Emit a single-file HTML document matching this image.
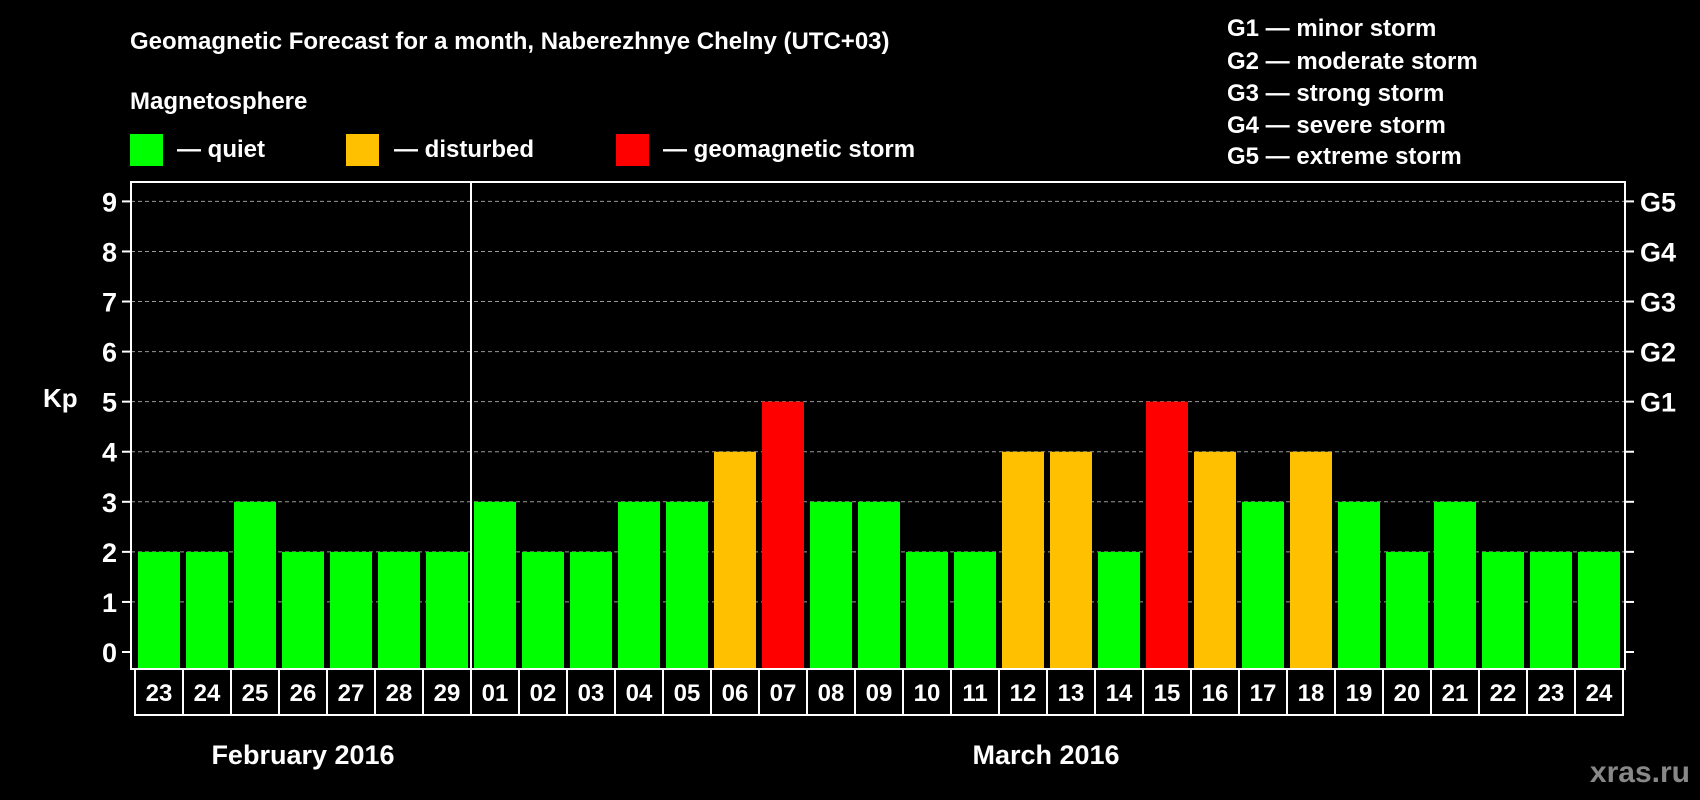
<!DOCTYPE html>
<html><head><meta charset="utf-8"><style>
body{margin:0;background:#000;width:1700px;height:800px;overflow:hidden}
svg{display:block;font-family:"Liberation Sans",sans-serif;font-weight:bold}
</style></head><body>
<svg id="c" width="1700" height="800">
<text x="130" y="49" fill="#fff" font-size="24">Geomagnetic Forecast for a month, Naberezhnye Chelny (UTC+03)</text>
<text x="130" y="109" fill="#fff" font-size="24">Magnetosphere</text>
<rect x="130" y="134" width="33" height="32" fill="#00ff00"/>
<text x="177" y="157" fill="#fff" font-size="24">— quiet</text>
<rect x="346" y="134" width="33" height="32" fill="#ffc000"/>
<text x="394" y="157" fill="#fff" font-size="24">— disturbed</text>
<rect x="616" y="134" width="33" height="32" fill="#ff0000"/>
<text x="663" y="157" fill="#fff" font-size="24">— geomagnetic storm</text>
<g fill="#fff" font-size="24">
<text x="1227" y="36">G1 — minor storm</text>
<text x="1227" y="69">G2 — moderate storm</text>
<text x="1227" y="101">G3 — strong storm</text>
<text x="1227" y="133">G4 — severe storm</text>
<text x="1227" y="164">G5 — extreme storm</text>
</g>
<text x="43" y="407" fill="#fff" font-size="26">Kp</text>
<text x="303" y="764" fill="#fff" font-size="27" text-anchor="middle">February 2016</text>
<text x="1046" y="764" fill="#fff" font-size="27" text-anchor="middle">March 2016</text>
<text x="1690" y="782" fill="#888" font-size="30" text-anchor="end">xras.ru</text>
<g id="plot"></g>
</svg>
<script>
const days=["23","24","25","26","27","28","29","01","02","03","04","05","06","07","08","09","10","11","12","13","14","15","16","17","18","19","20","21","22","23","24"];
const kp=[2,2,3,2,2,2,2,3,2,2,3,3,4,5,3,3,2,2,4,4,2,5,4,3,4,3,2,3,2,2,2];
const yTicks=["0","1","2","3","4","5","6","7","8","9"];
const gLabels=["G1","G2","G3","G4","G5"];
const NS="http://www.w3.org/2000/svg";
const g=document.getElementById('plot');
const L=131,R=1625,T=182,B=669,Y0=652,Y9=201.4;
const y=v=>Y0+(Y9-Y0)*v/9;
const pitch=48,bx0=138,bw=42;
const x=i=>bx0+i*pitch;
function mk(t,a){const e=document.createElementNS(NS,t);for(const k in a)e.setAttribute(k,a[k]);g.appendChild(e);return e;}
yTicks.forEach((t,i)=>{
 const yy=y(+t);
 if(i>0){const l=mk('line',{x1:L,x2:R,y1:yy,y2:yy,stroke:'#999','stroke-width':1,'stroke-dasharray':'4,3'});
 
 }
 const tl=mk('line',{x1:L-9,x2:L,y1:yy,y2:yy,stroke:'#fff','stroke-width':2});
 
 
 const tr=mk('line',{x1:R,x2:R+9,y1:yy,y2:yy,stroke:'#fff','stroke-width':2});
 
 
 const tx=mk('text',{x:117,y:yy+10,fill:'#fff','font-size':27,'text-anchor':'end'});
 tx.textContent=t;
 
 
});
gLabels.forEach((t,i)=>{
 const tx=mk('text',{x:1640,y:y(5+i)+10,fill:'#fff','font-size':27});
 tx.textContent=t;
 
 
});
kp.forEach((v,i)=>{
 const c=v>=5?'#ff0000':v>=4?'#ffc000':'#00ff00';
 const r=mk('rect',{x:x(i),y:y(v),width:bw,height:y(0)-y(v)+17,fill:c});
 
 
 const bxl=x(i)-3;
 const b=mk('rect',{x:bxl,y:B,width:pitch,height:46,fill:'none',stroke:'#fff','stroke-width':2});
 
 
 const tx=mk('text',{x:bxl+pitch/2,y:B+32,fill:'#fff','font-size':24,'text-anchor':'middle'});
 tx.textContent=days[i];
 
 
});
const f=mk('rect',{x:L,y:T,width:R-L,height:B-T,fill:'none',stroke:'#fff','stroke-width':2});


const d=mk('line',{x1:471,x2:471,y1:T,y2:B+46,stroke:'#fff','stroke-width':2});


</script>
</body></html>
